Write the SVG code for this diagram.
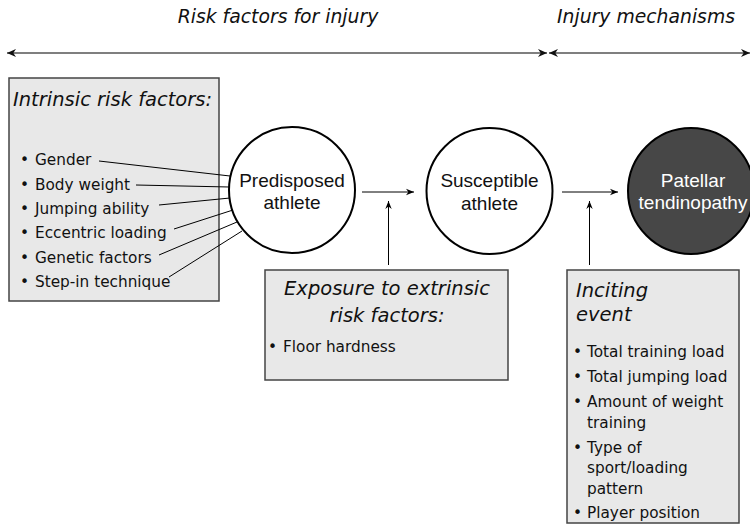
<svg xmlns="http://www.w3.org/2000/svg" width="750" height="525" viewBox="0 0 750 525">
<defs>
<style>
.hdr{font-family:"DejaVu Sans",sans-serif;font-style:italic;font-size:18.8px;fill:#111}
.ttl{font-family:"DejaVu Sans",sans-serif;font-style:italic;font-size:19.5px;fill:#111}
.itm{font-family:"DejaVu Sans",sans-serif;font-size:15.3px;fill:#111}
.cir{font-family:"Liberation Sans",Arial,sans-serif;font-size:19px;fill:#111;text-anchor:middle}
.box{fill:#e8e8e8;stroke:#444;stroke-width:1.5}
.node{fill:#fff;stroke:#000;stroke-width:2}
.lnk{stroke:#000;stroke-width:1;fill:none}
.span{stroke:#555;stroke-width:1.3;fill:none}
</style>
<marker id="ah" viewBox="0 0 10 10" refX="10" refY="5" markerWidth="8" markerHeight="8" markerUnits="userSpaceOnUse" orient="auto-start-reverse">
<path d="M0,1 L10,5 L0,9 L3,5 Z" fill="#000"/>
</marker>
<marker id="sh" viewBox="0 0 10 10" refX="10" refY="5" markerWidth="9" markerHeight="9" markerUnits="userSpaceOnUse" orient="auto-start-reverse">
<path d="M0,0.5 L10,5 L0,9.5 L3,5 Z" fill="#111"/>
</marker>
</defs>

<g id="headers">
<text class="hdr" x="278" y="23" text-anchor="middle">Risk factors for injury</text>
<text class="hdr" x="646" y="23" text-anchor="middle">Injury mechanisms</text>
<line class="span" x1="7" y1="53" x2="547" y2="53" marker-start="url(#sh)" marker-end="url(#sh)"/>
<line class="span" x1="549" y1="53" x2="750" y2="53" marker-start="url(#sh)" marker-end="url(#sh)"/>
</g>

<g id="intrinsic">
<rect class="box" x="9" y="78" width="210" height="223"/>
<text class="ttl" x="13" y="106">Intrinsic risk factors:</text>
<text class="itm" x="20" y="165">•</text><text class="itm" x="35" y="165">Gender</text>
<text class="itm" x="20" y="189.5">•</text><text class="itm" x="35" y="189.5">Body weight</text>
<text class="itm" x="20" y="214">•</text><text class="itm" x="35" y="214">Jumping ability</text>
<text class="itm" x="20" y="238">•</text><text class="itm" x="35" y="238">Eccentric loading</text>
<text class="itm" x="20" y="263">•</text><text class="itm" x="35" y="263">Genetic factors</text>
<text class="itm" x="20" y="287">•</text><text class="itm" x="35" y="287">Step-in technique</text>
</g>

<g id="predisposed">
<circle class="node" cx="292" cy="190" r="63"/>
<text class="cir" x="292" y="187">Predisposed</text>
<text class="cir" x="292" y="209">athlete</text>
</g>

<g id="susceptible">
<circle class="node" cx="489.5" cy="191" r="63"/>
<text class="cir" x="489.5" y="187">Susceptible</text>
<text class="cir" x="489.5" y="210">athlete</text>
</g>

<g id="patellar">
<circle cx="691" cy="191" r="63" fill="#474747" stroke="#000" stroke-width="2"/>
<text class="cir" x="693" y="187" style="fill:#fff">Patellar</text>
<text class="cir" x="693" y="209" style="fill:#fff">tendinopathy</text>
</g>

<g id="extrinsic">
<rect class="box" x="265" y="270" width="243" height="110"/>
<text class="ttl" x="387" y="295" text-anchor="middle">Exposure to extrinsic</text>
<text class="ttl" x="387" y="322" text-anchor="middle">risk factors:</text>
<text class="itm" x="268" y="352">•</text><text class="itm" x="283" y="352">Floor hardness</text>
</g>

<g id="inciting">
<rect class="box" x="567" y="270" width="172" height="253"/>
<text class="ttl" x="576" y="297">Inciting</text>
<text class="ttl" x="576" y="321">event</text>
<text class="itm" x="573" y="357">•</text><text class="itm" x="587" y="357">Total training load</text>
<text class="itm" x="573" y="382">•</text><text class="itm" x="587" y="382">Total jumping load</text>
<text class="itm" x="573" y="407">•</text><text class="itm" x="587" y="407">Amount of weight</text>
<text class="itm" x="587" y="428">training</text>
<text class="itm" x="573" y="453">•</text><text class="itm" x="587" y="453">Type of</text>
<text class="itm" x="587" y="473">sport/loading</text>
<text class="itm" x="587" y="494">pattern</text>
<text class="itm" x="573" y="518">•</text><text class="itm" x="587" y="518">Player position</text>
</g>

<g id="connectors">
<line class="lnk" x1="99" y1="161" x2="230" y2="176"/>
<line class="lnk" x1="136" y1="185" x2="229.5" y2="187"/>
<line class="lnk" x1="159" y1="205" x2="230" y2="198"/>
<line class="lnk" x1="174" y1="229" x2="233" y2="210"/>
<line class="lnk" x1="159" y1="255" x2="237" y2="222"/>
<line class="lnk" x1="169" y1="277" x2="242" y2="231"/>
<line class="lnk" x1="362" y1="192" x2="414" y2="192" marker-end="url(#ah)"/>
<line class="lnk" x1="388.5" y1="265" x2="388.5" y2="201" marker-end="url(#ah)"/>
<line class="lnk" x1="562" y1="192" x2="618" y2="192" marker-end="url(#ah)"/>
<line class="lnk" x1="589.5" y1="265" x2="589.5" y2="201" marker-end="url(#ah)"/>
</g>
</svg>
